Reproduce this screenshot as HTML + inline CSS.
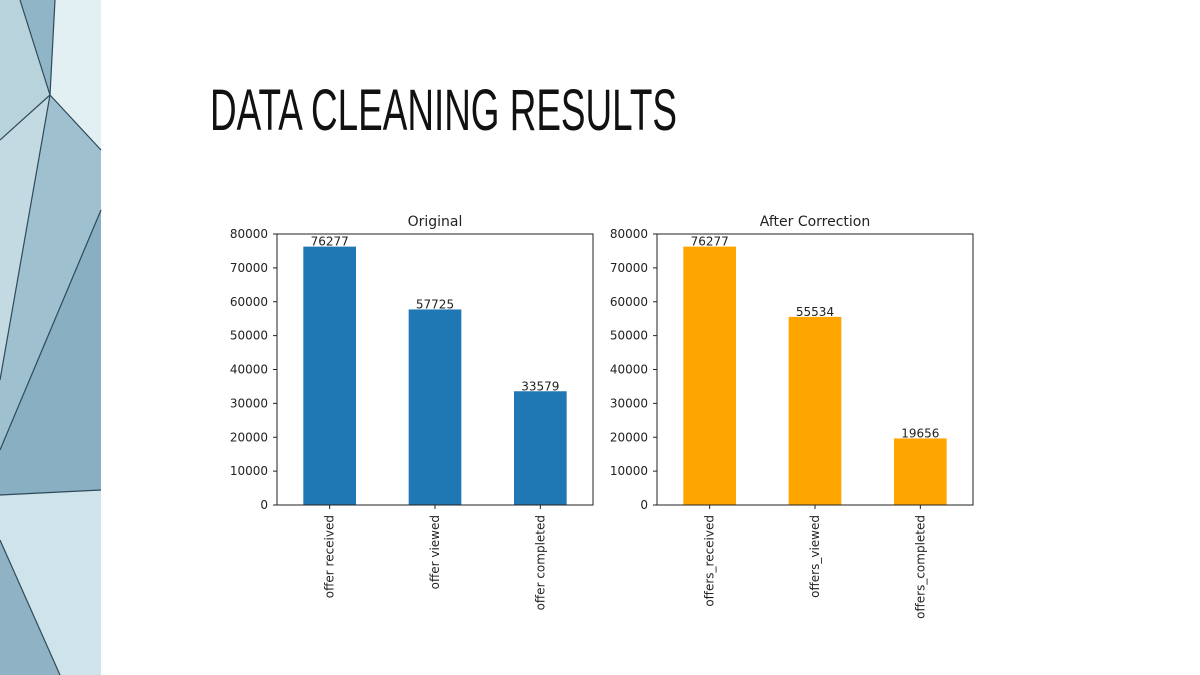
<!DOCTYPE html>
<html><head><meta charset="utf-8"><style>
body{margin:0;width:1200px;height:675px;overflow:hidden;background:#fff;font-family:"Liberation Sans","DejaVu Sans",sans-serif}
svg{position:absolute;left:0;top:0}
.ch text{font-family:"DejaVu Sans",sans-serif}
</style></head><body>
<svg width="1200" height="675">
<g>
<rect x="0" y="0" width="101" height="675" fill="#a9c8d4"/>
<polygon points="0,0 20,0 50,95 0,140" fill="#b9d3dd"/>
<polygon points="20,0 55,0 50,95" fill="#8fb5c6"/>
<polygon points="55,0 101,0 101,150 50,95" fill="#e3f0f3"/>
<polygon points="50,95 101,150 101,210 0,450 0,380" fill="#9fc0cf"/>
<polygon points="0,140 50,95 0,380" fill="#c3dae3"/>
<polygon points="101,210 101,490 0,495 0,450" fill="#88afc2"/>
<polygon points="0,495 101,490 101,675 60,675 0,540" fill="#cfe3ea"/>
<polygon points="0,540 60,675 0,675" fill="#8fb3c4"/>
<g stroke="#2e4a5a" stroke-width="1.2" fill="none">
<polyline points="20,0 50,95 0,140"/><polyline points="50,95 101,150"/><polyline points="50,95 0,380"/>
<polyline points="101,210 0,450"/><polyline points="0,495 101,490"/><polyline points="0,540 60,675"/><line x1="50" y1="95" x2="55" y2="0"/>
</g></g>
<text x="210" y="130" font-size="58" textLength="467" lengthAdjust="spacingAndGlyphs" fill="#111">DATA CLEANING RESULTS</text>
<g id="c1" class="ch"></g>
<g id="c2" class="ch"></g>
</svg>
<script>
const cats1=["offer received","offer viewed","offer completed"];
const vals1=[76277,57725,33579];
const cats2=["offers_received","offers_viewed","offers_completed"];
const vals2=[76277,55534,19656];
const yTicks=[0,10000,20000,30000,40000,50000,60000,70000,80000];
const NS="http://www.w3.org/2000/svg";
function mk(p,t,a){const e=document.createElementNS(NS,t);for(const k in a)e.setAttribute(k,a[k]);p.appendChild(e);return e;}
function chart(g,x0,title,cats,vals,color){
 const w=316,top=234,bot=505,ymax=80000;
 const y=v=>bot-(v/ymax)*(bot-top);
 const bw=w/cats.length;
 const x=i=>x0+bw*(i+0.5);
 let t=mk(g,'text',{x:x0+w/2,y:226,'text-anchor':'middle','font-size':14,fill:'#222'});t.textContent=title;
 
 
 yTicks.forEach(v=>{
  const l=mk(g,'line',{x1:x0-4,x2:x0,y1:y(v),y2:y(v),stroke:'#222'});
  
  
  const tx=mk(g,'text',{x:x0-9,y:y(v)+4,'text-anchor':'end','font-size':12,fill:'#222'});tx.textContent=v;
  
  
 });
 vals.forEach((v,i)=>{
  const r=mk(g,'rect',{x:x(i)-bw/4,y:y(v),width:bw/2,height:bot-y(v),fill:color});
  
  
  const lb=mk(g,'text',{x:x(i),y:y(v)-1,'text-anchor':'middle','font-size':12,fill:'#222'});lb.textContent=v;
  
  
  const tk=mk(g,'line',{x1:x(i),x2:x(i),y1:bot,y2:bot+4,stroke:'#222'});
  
  
  const cl=mk(g,'text',{x:0,y:0,'text-anchor':'end','font-size':12,fill:'#222',transform:`translate(${x(i)+4},${bot+10}) rotate(-90)`});cl.textContent=cats[i];
  
  
 });
 const f=mk(g,'rect',{x:x0,y:top,width:w,height:bot-top,fill:'none',stroke:'#222','stroke-width':1});
 
 
}
chart(document.getElementById('c1'),277,'Original',cats1,vals1,'#1f77b4');
chart(document.getElementById('c2'),657,'After Correction',cats2,vals2,'#ffa500');
</script>
</body></html>
